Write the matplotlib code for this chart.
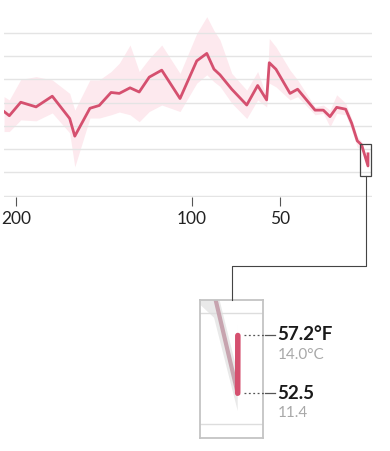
import numpy as np
import matplotlib.pyplot as plt
from matplotlib.lines import Line2D
from matplotlib.patches import Rectangle

# millions of years ago, global mean temperature (deg C) with uncertainty band
ages = [206.8, 203.8, 197.3, 188.6, 179.4, 169.5, 166.6, 158.0, 152.7, 146.0,
        141.3, 135.2, 130.0, 124.3, 117.2, 106.8, 97.3, 91.6, 87.5, 84.1,
        77.4, 68.9, 62.7, 57.6, 56.1, 52.3, 44.3, 40.0, 30.1, 25.4,
        21.6, 17.8, 12.7, 9.3, 6.1, 3.6, 0.02, 0.0]
temp = [23.1, 22.2, 25.1, 24.1, 26.4, 21.6, 17.8, 23.8, 24.4, 27.2,
        27.0, 28.2, 27.3, 30.5, 32.0, 25.9, 34.0, 35.6, 32.2, 31.0,
        27.9, 24.5, 28.7, 25.6, 33.6, 32.2, 27.0, 27.9, 23.4, 23.4,
        22.0, 24.0, 23.6, 20.6, 16.8, 15.9, 11.4, 14.0]
temp_hi = [26.3, 25.6, 30.0, 30.6, 29.9, 27.0, 23.4, 29.9, 29.9, 31.7,
           33.5, 37.4, 31.7, 34.5, 37.4, 31.3, 39.9, 43.5, 40.5, 38.5,
           31.3, 27.7, 31.7, 26.3, 38.8, 37.0, 32.0, 29.9, 24.1, 24.5,
           23.4, 26.7, 24.9, 21.6, 17.7, 16.6, 12.3, 14.5]
temp_lo = [18.8, 18.8, 21.3, 21.1, 22.8, 18.5, 11.2, 21.7, 21.7, 22.4,
           23.0, 22.4, 20.9, 23.1, 24.5, 23.1, 29.2, 31.0, 29.5, 28.5,
           24.9, 21.6, 25.6, 24.1, 29.2, 28.4, 25.6, 26.3, 22.4, 22.7,
           19.8, 22.7, 22.4, 19.1, 15.5, 14.8, 10.6, 13.5]

xticks = [200, 100, 50]
grid_vals = [5, 10, 15, 20, 25, 30, 35, 40]

# last two points: last glacial maximum and pre-industrial
end_labels_f = ["57.2°F", "52.5"]
end_labels_c = ["14.0°C", "11.4"]

# zoom window (age, temp) shown in the inset
zoom_box = (4.55, -1.70, 9.24, 16.05)

RED = "#d5506f"
BAND = "#fde9ee"
W, H = 390, 451


def fx(x):
    return x / W


def fy(y):
    return 1 - y / H


def pos(x0, y0, x1, y1):
    return [fx(x0), fy(y1), (x1 - x0) / W, (y1 - y0) / H]


plt.rcParams['font.family'] = ['Lato', 'DejaVu Sans']

fig = plt.figure(figsize=(3.9, 4.51), dpi=100)

# main chart
ax = fig.add_axes(pos(4, 10, 371.7, 196.6))
ax.fill_between(ages, temp_lo, temp_hi, color=BAND, lw=0, zorder=0.5)
ax.plot(ages, temp, color=RED, lw=2, solid_joinstyle='round', zorder=3)
ax.set_xlim(206.82, -2.10)
ax.set_ylim(4.8, 44.94)
ax.set_yticks(grid_vals)
ax.set_axisbelow(False)
ax.yaxis.grid(True, color="#e4e4e4", lw=1)
for gl in ax.get_ygridlines():
    gl.set_zorder(1)
ax.tick_params(axis='y', length=0, labelleft=False)
ax.set_xticks(xticks)
ax.set_xticklabels([str(v) for v in xticks], fontsize=12.5, color="#222222")
ax.tick_params(axis='x', direction='out', length=6.5, width=0.8,
               color="#555555", pad=4)
for s in ax.spines.values():
    s.set_visible(False)

x0, x1, y0, y1 = zoom_box
ax.add_patch(Rectangle((x0, y0), x1 - x0, y1 - y0, fill=False,
                       ec="#444444", lw=0.9, zorder=5, clip_on=False))

# connector from zoom box to inset
fig.add_artist(Line2D([fx(365.7), fx(365.7), fx(232), fx(232)],
                      [fy(176), fy(266), fy(266), fy(300)],
                      color="#444444", lw=0.8))

# inset
ins = fig.add_axes(pos(199.7, 300, 263.3, 438))
ins.fill_between(ages, temp_lo, temp_hi, color="#e9e9e9", lw=0, zorder=1)
ins.plot(ages[:-1], temp[:-1], color="#c7a4af", lw=3, zorder=2)
ins.plot(ages[-2:], temp[-2:], color=RED, lw=4, solid_capstyle='round', zorder=3)
ins.set_xlim(5.78, -3.86)
ins.set_ylim(9.38, 15.60)
ins.set_yticks([10, 15])
ins.yaxis.grid(True, color="#dddddd", lw=1, zorder=0)
ins.tick_params(length=0, labelleft=False, labelbottom=False)
ins.set_xticks([])
for s in ins.spines.values():
    s.set_color("#c4c4c4")
    s.set_linewidth(1.3)

# end labels
for yy, big, small in zip([335, 393.3], end_labels_f, end_labels_c):
    fig.add_artist(Line2D([fx(244), fx(265)], [fy(yy), fy(yy)],
                          color="#555555", lw=0.9, ls=(0, (1.5, 2))))
    fig.add_artist(Line2D([fx(265), fx(275)], [fy(yy), fy(yy)],
                          color="#555555", lw=0.9))
    fig.text(fx(277), fy(yy), big, fontsize=13.5, fontweight='bold',
             color="#1a1a1a", va='center', ha='left')
    fig.text(fx(277.5), fy(yy + 20), small, fontsize=11,
             color="#a8a8a8", va='center', ha='left')

fig.savefig("out.png", dpi=100, facecolor="white")
